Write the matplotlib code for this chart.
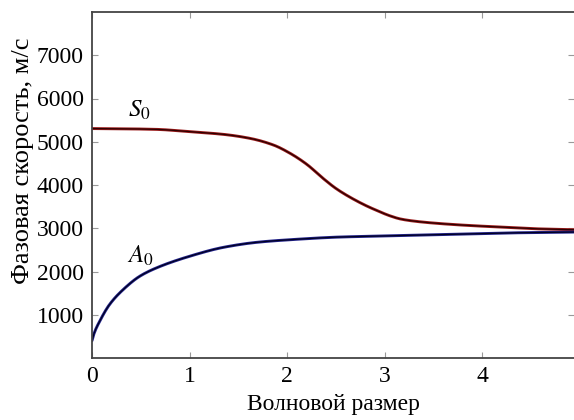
import numpy as np
import matplotlib
matplotlib.use("Agg")
import matplotlib.pyplot as plt
from matplotlib.ticker import FixedLocator

# Data
s0_x = [0.0, 0.3, 0.66, 1.0, 1.35, 1.62, 1.86, 2.03, 2.2, 2.37, 2.5, 2.65, 2.82, 2.92, 3.05, 3.16, 3.3, 3.5, 3.84, 4.18, 4.53, 4.94]
s0_y = [5305, 5300, 5286, 5233, 5170, 5078, 4924, 4733, 4480, 4150, 3920, 3710, 3510, 3410, 3290, 3215, 3165, 3120, 3067, 3028, 2989, 2966]

a0_x = [0.0, 0.02, 0.08, 0.18, 0.32, 0.49, 0.66, 1.0, 1.35, 1.69, 2.03, 2.54, 2.82, 3.5, 4.18, 4.94]
a0_y = [400, 560, 855, 1237, 1583, 1891, 2083, 2352, 2560, 2675, 2735, 2797, 2813, 2850, 2889, 2912]

x_ticks = [0, 1, 2, 3, 4]
y_ticks = [1000, 2000, 3000, 4000, 5000, 6000, 7000]
x_label = "Волновой размер"
y_label = "Фазовая скорость, м/с"

SERIF = ['Liberation Serif', 'DejaVu Serif']
plt.rcParams['font.family'] = SERIF
plt.rcParams['mathtext.fontset'] = 'stix'

fig = plt.figure(figsize=(5.74, 4.2), dpi=100)
W, H = 574, 420
left, right, top, bottom = 92, 574, 12, 358
ax = fig.add_axes([left / W, (H - bottom) / H, (right - left) / W, (bottom - top) / H])

def smooth(xs, ys):
    xs = np.asarray(xs, float); ys = np.asarray(ys, float)
    xx = np.linspace(xs[0], xs[-1], 500)
    h = np.diff(xs); d = np.diff(ys) / h
    m = np.zeros_like(xs)
    for i in range(1, len(xs) - 1):
        if d[i - 1] * d[i] > 0:
            w1 = 2 * h[i] + h[i - 1]; w2 = h[i] + 2 * h[i - 1]
            m[i] = (w1 + w2) / (w1 / d[i - 1] + w2 / d[i])
    m[0] = d[0]; m[-1] = d[-1]
    idx = np.clip(np.searchsorted(xs, xx) - 1, 0, len(xs) - 2)
    t = (xx - xs[idx]) / h[idx]
    h00 = 2 * t**3 - 3 * t**2 + 1; h10 = t**3 - 2 * t**2 + t
    h01 = -2 * t**3 + 3 * t**2; h11 = t**3 - t**2
    yy = h00 * ys[idx] + h10 * h[idx] * m[idx] + h01 * ys[idx + 1] + h11 * h[idx] * m[idx + 1]
    return xx, yy

sx, sy = smooth(s0_x, s0_y)
axx, ayy = smooth(a0_x, a0_y)
ax.plot(sx, sy, color='#9a1a1a', lw=2.1, solid_capstyle='round')
ax.plot(sx, sy, color='#2a0000', lw=0.9)
ax.plot(axx, ayy, color='#22228a', lw=2.1, solid_capstyle='round')
ax.plot(axx, ayy, color='#000020', lw=0.9)

ax.set_xlim(0, 4.94)
ax.set_ylim(0, 8000)
ax.xaxis.set_major_locator(FixedLocator(x_ticks))
ax.yaxis.set_major_locator(FixedLocator(y_ticks))
ax.set_xticklabels([str(v) for v in x_ticks], fontfamily=SERIF, fontsize=17)
ax.set_yticklabels([str(v) for v in y_ticks], fontfamily=SERIF, fontsize=17)
ax.tick_params(direction='in', length=4, width=0.8, color='#999999',
               top=True, right=True, pad=6)

for side in ['left', 'bottom', 'top']:
    ax.spines[side].set_color('#444444')
    ax.spines[side].set_linewidth(1.3)
ax.spines['right'].set_visible(False)

ax.set_xlabel(x_label, fontsize=17, labelpad=5)
ax.set_ylabel(y_label, fontsize=19)
ax.yaxis.set_label_coords(-(92 - 34) / (574 - 92), (358 - 161) / (358 - 12))

ax.text(0.49, 5720, r'$S_0$', fontsize=18, ha='center', va='center')
ax.text(0.50, 2360, r'$A_0$', fontsize=18, ha='center', va='center')

fig.savefig('out.png', dpi=100)
